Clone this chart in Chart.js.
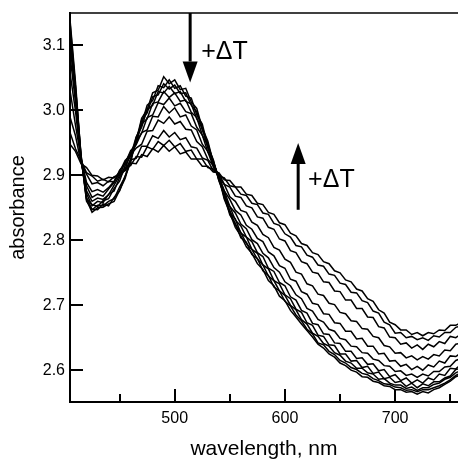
<!DOCTYPE html>
<html>
<head>
<meta charset="utf-8">
<script src="https://cdn.jsdelivr.net/npm/chart.js@4.4.0/dist/chart.umd.min.js"></script>
<style>
  html, body { margin: 0; padding: 0; background: #fff; }
  canvas { display: block; }
</style>
</head>
<body>
<canvas id="spectra" width="458" height="461"></canvas>
<script>
// --- 1. Data (absorbance vs wavelength, one curve per temperature) ---

const wavelength = [405, 410, 415, 420, 425, 430, 435, 440, 445, 450,
  455, 460, 465, 470, 475, 480, 485, 490, 495, 500,
  505, 510, 515, 520, 525, 530, 535, 540, 545, 550,
  555, 560, 565, 570, 575, 580, 585, 590, 595, 600,
  605, 610, 615, 620, 625, 630, 635, 640, 645, 650,
  655, 660, 665, 670, 675, 680, 685, 690, 695, 700,
  705, 710, 715, 720, 725, 730, 735, 740, 745, 750, 755, 760];

// coldest first, hottest last
const t1 = [3.140, 3.043, 2.928, 2.862, 2.843, 2.850, 2.851, 2.856, 2.860, 2.877,
  2.895, 2.924, 2.953, 2.988, 3.001, 3.027, 3.031, 3.052, 3.041, 3.047,
  3.032, 3.034, 3.013, 3.003, 2.973, 2.953, 2.920, 2.897, 2.863, 2.842,
  2.820, 2.807, 2.790, 2.780, 2.764, 2.755, 2.738, 2.730, 2.714, 2.707,
  2.692, 2.682, 2.671, 2.661, 2.651, 2.640, 2.634, 2.625, 2.620, 2.611,
  2.607, 2.600, 2.597, 2.590, 2.589, 2.583, 2.581, 2.576, 2.575, 2.570,
  2.570, 2.566, 2.567, 2.563, 2.567, 2.565, 2.570, 2.573, 2.578, 2.583, 2.590, 2.593];
const t2 = [3.136, 3.035, 2.932, 2.860, 2.848, 2.847, 2.856, 2.853, 2.866, 2.876,
  2.899, 2.919, 2.958, 2.979, 3.008, 3.015, 3.038, 3.035, 3.047, 3.034,
  3.038, 3.022, 3.019, 2.993, 2.979, 2.945, 2.924, 2.892, 2.869, 2.839,
  2.826, 2.804, 2.797, 2.778, 2.772, 2.753, 2.746, 2.728, 2.722, 2.706,
  2.699, 2.685, 2.676, 2.663, 2.656, 2.642, 2.639, 2.629, 2.624, 2.615,
  2.611, 2.604, 2.601, 2.595, 2.593, 2.587, 2.584, 2.579, 2.578, 2.574,
  2.573, 2.569, 2.570, 2.567, 2.570, 2.570, 2.573, 2.576, 2.580, 2.585, 2.592, 2.596];
const t3 = [3.125, 3.036, 2.927, 2.866, 2.847, 2.854, 2.853, 2.860, 2.864, 2.882,
  2.898, 2.925, 2.950, 2.985, 2.996, 3.021, 3.024, 3.041, 3.033, 3.039,
  3.026, 3.027, 3.008, 2.998, 2.970, 2.950, 2.919, 2.898, 2.865, 2.846,
  2.824, 2.812, 2.795, 2.786, 2.771, 2.762, 2.745, 2.738, 2.722, 2.715,
  2.700, 2.693, 2.678, 2.671, 2.657, 2.652, 2.641, 2.637, 2.627, 2.623,
  2.614, 2.611, 2.603, 2.603, 2.596, 2.594, 2.586, 2.587, 2.580, 2.577,
  2.577, 2.572, 2.574, 2.569, 2.573, 2.573, 2.578, 2.580, 2.586, 2.589, 2.596, 2.600];
const t4 = [3.117, 3.024, 2.931, 2.864, 2.855, 2.852, 2.861, 2.864, 2.880, 2.891,
  2.915, 2.930, 2.959, 2.974, 3.001, 3.008, 3.029, 3.027, 3.037, 3.026,
  3.029, 3.014, 3.010, 2.987, 2.973, 2.942, 2.923, 2.893, 2.872, 2.843,
  2.833, 2.811, 2.805, 2.786, 2.780, 2.762, 2.756, 2.738, 2.733, 2.716,
  2.710, 2.694, 2.689, 2.673, 2.669, 2.654, 2.652, 2.639, 2.638, 2.625,
  2.625, 2.614, 2.615, 2.604, 2.606, 2.595, 2.597, 2.587, 2.589, 2.581,
  2.583, 2.575, 2.580, 2.573, 2.579, 2.576, 2.582, 2.582, 2.588, 2.591, 2.601, 2.603];
const t5 = [3.101, 3.023, 2.925, 2.872, 2.853, 2.860, 2.858, 2.871, 2.876, 2.897,
  2.909, 2.935, 2.949, 2.979, 2.987, 3.011, 3.013, 3.029, 3.020, 3.027,
  3.014, 3.016, 2.997, 2.989, 2.962, 2.946, 2.916, 2.899, 2.868, 2.852,
  2.831, 2.822, 2.805, 2.798, 2.781, 2.775, 2.757, 2.752, 2.735, 2.730,
  2.713, 2.708, 2.692, 2.688, 2.672, 2.670, 2.656, 2.655, 2.642, 2.641,
  2.629, 2.629, 2.618, 2.619, 2.609, 2.610, 2.599, 2.601, 2.590, 2.593,
  2.584, 2.588, 2.580, 2.585, 2.580, 2.588, 2.585, 2.594, 2.592, 2.603, 2.602, 2.609];
const t6 = [3.085, 3.012, 2.924, 2.876, 2.860, 2.865, 2.863, 2.870, 2.885, 2.900,
  2.920, 2.935, 2.952, 2.965, 2.989, 2.993, 3.012, 3.009, 3.019, 3.007,
  3.011, 2.998, 2.995, 2.974, 2.962, 2.936, 2.920, 2.895, 2.876, 2.852,
  2.842, 2.825, 2.818, 2.801, 2.795, 2.780, 2.773, 2.758, 2.751, 2.736,
  2.730, 2.716, 2.710, 2.695, 2.691, 2.678, 2.674, 2.663, 2.660, 2.649,
  2.647, 2.637, 2.636, 2.627, 2.626, 2.617, 2.615, 2.607, 2.606, 2.598,
  2.599, 2.592, 2.594, 2.589, 2.594, 2.591, 2.598, 2.598, 2.605, 2.606, 2.615, 2.618];
const t7 = [3.058, 2.999, 2.923, 2.884, 2.866, 2.871, 2.868, 2.879, 2.889, 2.908,
  2.918, 2.938, 2.947, 2.966, 2.970, 2.991, 2.990, 3.006, 2.996, 3.004,
  2.990, 2.993, 2.976, 2.970, 2.948, 2.937, 2.913, 2.900, 2.876, 2.863,
  2.846, 2.839, 2.823, 2.817, 2.803, 2.798, 2.782, 2.776, 2.761, 2.757,
  2.740, 2.737, 2.721, 2.717, 2.703, 2.701, 2.687, 2.686, 2.673, 2.672,
  2.660, 2.660, 2.648, 2.649, 2.637, 2.637, 2.625, 2.626, 2.614, 2.615,
  2.606, 2.609, 2.601, 2.606, 2.600, 2.608, 2.605, 2.614, 2.611, 2.622, 2.621, 2.627];
const t8 = [3.031, 2.977, 2.927, 2.889, 2.875, 2.878, 2.874, 2.881, 2.891, 2.905,
  2.923, 2.931, 2.942, 2.948, 2.968, 2.969, 2.985, 2.980, 2.990, 2.979,
  2.983, 2.971, 2.970, 2.952, 2.944, 2.925, 2.915, 2.897, 2.886, 2.867,
  2.860, 2.846, 2.843, 2.828, 2.823, 2.809, 2.804, 2.789, 2.785, 2.771,
  2.766, 2.751, 2.748, 2.733, 2.730, 2.717, 2.715, 2.703, 2.701, 2.689,
  2.687, 2.676, 2.675, 2.664, 2.663, 2.652, 2.650, 2.638, 2.636, 2.626,
  2.627, 2.619, 2.622, 2.616, 2.621, 2.617, 2.624, 2.622, 2.631, 2.630, 2.640, 2.642];
const t9 = [2.990, 2.961, 2.919, 2.902, 2.887, 2.889, 2.884, 2.891, 2.890, 2.903,
  2.908, 2.924, 2.926, 2.945, 2.945, 2.961, 2.957, 2.969, 2.959, 2.966,
  2.955, 2.958, 2.944, 2.942, 2.927, 2.923, 2.907, 2.903, 2.886, 2.882,
  2.868, 2.866, 2.853, 2.850, 2.836, 2.834, 2.820, 2.817, 2.802, 2.799,
  2.784, 2.781, 2.767, 2.764, 2.751, 2.749, 2.736, 2.735, 2.722, 2.721,
  2.708, 2.708, 2.695, 2.695, 2.682, 2.681, 2.667, 2.665, 2.651, 2.650,
  2.640, 2.642, 2.634, 2.639, 2.632, 2.640, 2.636, 2.644, 2.641, 2.652, 2.650, 2.656];
const t10 = [2.966, 2.941, 2.923, 2.904, 2.899, 2.891, 2.894, 2.890, 2.898, 2.900,
  2.912, 2.915, 2.929, 2.928, 2.944, 2.940, 2.952, 2.946, 2.954, 2.944,
  2.949, 2.937, 2.939, 2.925, 2.925, 2.912, 2.910, 2.899, 2.896, 2.884,
  2.882, 2.871, 2.869, 2.857, 2.855, 2.842, 2.840, 2.826, 2.823, 2.810,
  2.805, 2.792, 2.790, 2.777, 2.774, 2.762, 2.760, 2.748, 2.746, 2.734,
  2.732, 2.720, 2.719, 2.707, 2.704, 2.691, 2.688, 2.674, 2.670, 2.657,
  2.658, 2.650, 2.652, 2.647, 2.650, 2.646, 2.653, 2.651, 2.658, 2.658, 2.666, 2.668];
const t11 = [2.948, 2.937, 2.918, 2.912, 2.900, 2.899, 2.893, 2.897, 2.896, 2.905,
  2.907, 2.919, 2.918, 2.932, 2.929, 2.941, 2.936, 2.946, 2.937, 2.944,
  2.933, 2.936, 2.925, 2.925, 2.914, 2.914, 2.905, 2.904, 2.893, 2.892,
  2.882, 2.882, 2.871, 2.869, 2.857, 2.855, 2.843, 2.840, 2.827, 2.824,
  2.811, 2.807, 2.795, 2.792, 2.781, 2.778, 2.767, 2.764, 2.753, 2.750,
  2.739, 2.736, 2.725, 2.722, 2.710, 2.706, 2.693, 2.688, 2.674, 2.670,
  2.662, 2.662, 2.655, 2.658, 2.653, 2.658, 2.656, 2.662, 2.661, 2.669, 2.669, 2.674];

const spectra = [t1, t2, t3, t4, t5, t6, t7, t8, t9, t10, t11];

// axis ticks
const xLabels = [500, 600, 700];
const xMinor = [450, 550, 650, 750];
const yLabels = [2.6, 2.7, 2.8, 2.9, 3.0, 3.1];

// "+ΔT" arrows (wavelength, absorbance)
const arrowAt = [514, 612];
const arrowFrom = [3.150, 2.847];
const arrowTo = [3.043, 2.950];
const arrowTextAt = [524, 621];
const arrowTextLevel = [3.090, 2.893];
const arrowText = ["+ΔT", "+ΔT"];

// --- 2. Frame, inward ticks and arrows ---

const FONT = "'Liberation Sans', Arial, Helvetica, sans-serif";

const frame = {
  id: "frame",
  afterDatasetsDraw(chart) {
    const { ctx, chartArea: area, scales: { x, y } } = chart;
    ctx.save();
    ctx.strokeStyle = "#000";
    ctx.fillStyle = "#000";

    ctx.lineWidth = 2;
    ctx.beginPath();
    yLabels.forEach(v => {
      const py = Math.round(y.getPixelForValue(v));
      ctx.moveTo(area.left, py);
      ctx.lineTo(area.left + 13, py);
    });
    xLabels.forEach(v => {
      const px = Math.round(x.getPixelForValue(v));
      ctx.moveTo(px, area.bottom);
      ctx.lineTo(px, area.bottom - 13);
    });
    xMinor.forEach(v => {
      const px = Math.round(x.getPixelForValue(v));
      ctx.moveTo(px, area.bottom);
      ctx.lineTo(px, area.bottom - 8);
    });
    ctx.stroke();

    // top edge only, no right edge
    ctx.lineWidth = 1.5;
    ctx.beginPath();
    ctx.moveTo(area.left, area.top);
    ctx.lineTo(area.right, area.top);
    ctx.stroke();

    arrowAt.forEach((w, i) => {
      const px = x.getPixelForValue(w);
      const y0 = y.getPixelForValue(arrowFrom[i]);
      const y1 = y.getPixelForValue(arrowTo[i]);
      const dir = Math.sign(y1 - y0);
      const head = 21;
      ctx.lineWidth = 3;
      ctx.beginPath();
      ctx.moveTo(px, y0);
      ctx.lineTo(px, y1 - dir * head);
      ctx.stroke();
      ctx.beginPath();
      ctx.moveTo(px - 7.5, y1 - dir * head);
      ctx.lineTo(px + 7.5, y1 - dir * head);
      ctx.lineTo(px, y1);
      ctx.closePath();
      ctx.fill();

      ctx.font = "25px " + FONT;
      ctx.textAlign = "left";
      ctx.textBaseline = "middle";
      ctx.fillText(arrowText[i], x.getPixelForValue(arrowTextAt[i]), y.getPixelForValue(arrowTextLevel[i]));
    });
    ctx.restore();
  }
};

// --- 3. Chart ---

Chart.defaults.font.family = FONT;
Chart.defaults.color = "#000";

const ctx = document.getElementById("spectra").getContext("2d");

new Chart(ctx, {
  type: "line",
  data: {
    datasets: spectra.map((s, i) => ({
      label: "T" + (i + 1),
      data: wavelength.map((w, j) => ({ x: w, y: s[j] })),
      borderColor: "#000",
      borderWidth: 1.5,
      pointRadius: 0,
      fill: false,
      tension: 0
    }))
  },
  options: {
    responsive: false,
    animation: false,
    devicePixelRatio: 1,
    layout: { padding: { top: 13, right: 0, bottom: 0, left: 0 } },
    plugins: {
      legend: { display: false },
      tooltip: { enabled: false }
    },
    scales: {
      x: {
        type: "linear",
        min: 405,
        max: 757,
        grid: { display: false, drawTicks: false },
        border: { display: true, color: "#000", width: 2 },
        ticks: {
          padding: 7,
          font: { size: 16 },
          callback: v => String(v)
        },
        afterBuildTicks: s => { s.ticks = xLabels.map(v => ({ value: v })); },
        afterFit: s => { s.height = 59; s.paddingLeft = 0; s.paddingRight = 0; },
        title: {
          display: true,
          text: "wavelength, nm",
          font: { size: 21, lineHeight: 1 },
          padding: { top: 0, bottom: 1 }
        }
      },
      y: {
        min: 2.551,
        max: 3.150,
        grid: { display: false, drawTicks: false },
        border: { display: true, color: "#000", width: 2 },
        ticks: {
          padding: 5,
          font: { size: 16 },
          callback: v => v.toFixed(1)
        },
        afterBuildTicks: s => { s.ticks = yLabels.map(v => ({ value: v })); },
        afterFit: s => { s.width = 70; s.paddingTop = 0; s.paddingBottom = 0; },
        title: {
          display: true,
          text: "absorbance",
          font: { size: 20, lineHeight: 1 },
          padding: { top: 8, bottom: 0 }
        }
      }
    }
  },
  plugins: [frame]
});
</script>
</body>
</html>
